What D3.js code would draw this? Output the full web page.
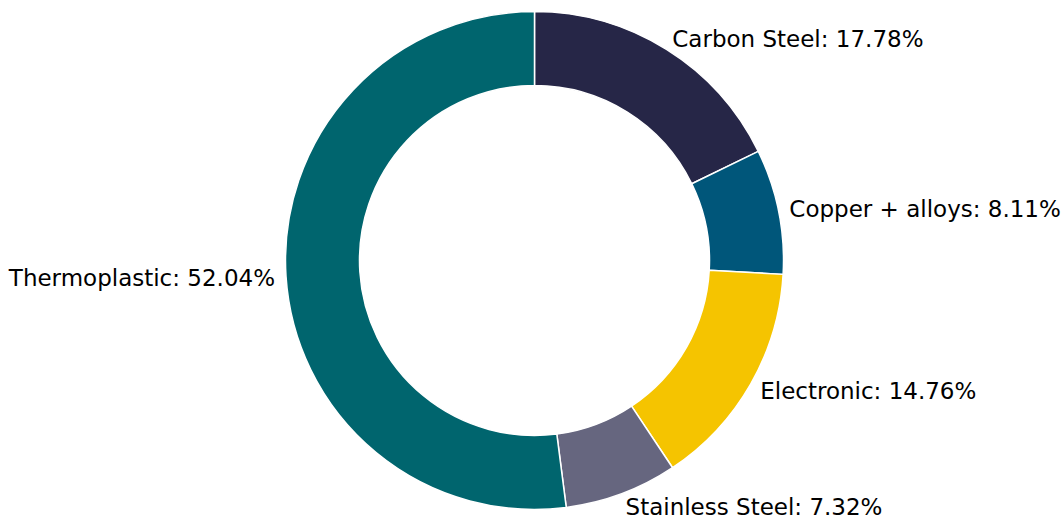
<!DOCTYPE html>
<html lang="en">
<head>
<meta charset="UTF-8">
<title>Material share donut</title>
<style>
  body { margin: 0; background: #fff; }
  svg text { font-family: "DejaVu Sans", sans-serif; font-size: 23px; fill: #000; }
</style>
</head>
<body>
<svg id="chart" width="1064" height="517"></svg>
<script src="https://d3js.org/d3.v7.min.js"></script>
<script>
var categories = ["Carbon Steel", "Copper + alloys", "Electronic", "Stainless Steel", "Thermoplastic"];
var values = [17.78, 8.11, 14.76, 7.32, 52.04];
var colors = ["#262647", "#00567a", "#f5c400", "#66667f", "#00656e"];

var cx = 534.5, cy = 260.5;
var outerR = 249, innerR = 175;
// labels sit a little outside the ring
var labelRx = 260, labelRy = 262;

var data = categories.map(function(c, i) { return { name: c, value: values[i], color: colors[i] }; });

var pie = d3.pie()
  .sort(null)
  .value(function(d) { return d.value; });

var arc = d3.arc()
  .innerRadius(innerR)
  .outerRadius(outerR);

var svg = d3.select("#chart");
var g = svg.append("g")
  .attr("transform", "translate(" + cx + "," + cy + ")");

var arcs = pie(data);

g.selectAll("path")
  .data(arcs)
  .enter().append("path")
  .attr("d", arc)
  .attr("fill", function(d) { return d.data.color; })
  .attr("stroke", "#fff")
  .attr("stroke-width", 1.5)
  .attr("stroke-linejoin", "round");

function mid(d) { return (d.startAngle + d.endAngle) / 2; }

g.selectAll("text")
  .data(arcs)
  .enter().append("text")
  .attr("x", function(d) { return labelRx * Math.sin(mid(d)); })
  .attr("y", function(d) { return -labelRy * Math.cos(mid(d)); })
  .attr("dy", "0.38em")
  .attr("text-anchor", function(d) { return Math.sin(mid(d)) >= 0 ? "start" : "end"; })
  .text(function(d) { return d.data.name + ": " + d3.format(".2f")(d.data.value) + "%"; });
</script>
</body>
</html>
